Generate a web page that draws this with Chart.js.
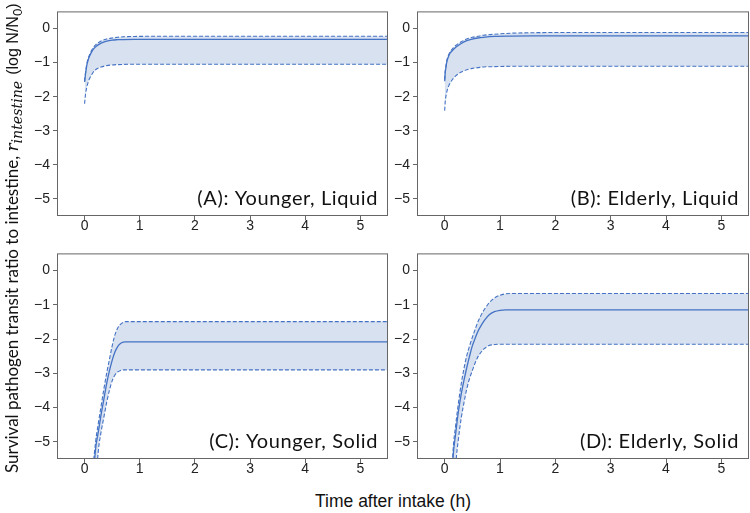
<!DOCTYPE html>
<html>
<head>
<meta charset="utf-8">
<script src="https://cdn.jsdelivr.net/npm/chart.js@4/dist/chart.umd.min.js"></script>
<style>
  body { margin: 0; background: #fff; width: 750px; height: 513px; position: relative; overflow: hidden; }
  .panel { position: absolute; }
  #yTitle {
    position: absolute; left: 1px; top: 473px; white-space: nowrap;
    transform-origin: 0 0; transform: rotate(-90deg);
    font-family: Lato, sans-serif; font-size: 17px; line-height: 22px; color: #111;
  }
  #yTitle .math { font-family: "DejaVu Serif", serif; font-style: italic; }
  #yTitle .unit { font-family: "Liberation Sans", Arial, sans-serif; font-size: 16px; margin-left: 6px; }
  #xTitle {
    position: absolute; left: 393px; top: 493px; transform: translateX(-50%);
    font-family: "Liberation Sans", Arial, sans-serif; font-size: 17.5px; line-height: 1; color: #111; white-space: nowrap;
  }
</style>
</head>
<body>
<div class="panel" style="left:17px;top:0;width:372px;height:244px"><canvas id="chartA"></canvas></div>
<div class="panel" style="left:377px;top:0;width:373px;height:244px"><canvas id="chartB"></canvas></div>
<div class="panel" style="left:17px;top:242px;width:372px;height:245px"><canvas id="chartC"></canvas></div>
<div class="panel" style="left:377px;top:242px;width:373px;height:245px"><canvas id="chartD"></canvas></div>
<div id="yTitle">Survival pathogen transit ratio to intestine, <span class="math">r<sub>intestine</sub></span><span class="unit">(log N/N<sub>0</sub>)</span></div>
<div id="xTitle">Time after intake (h)</div>
<script>
// tick labels
const xTicks = [0, 1, 2, 3, 4, 5];
const yTicks = [0, -1, -2, -3, -4, -5];

// liquid meals: time grid (h) and log ratios
const tLiquid = [0, 0.01, 0.02, 0.04, 0.07, 0.1, 0.15, 0.2, 0.3, 0.4, 0.5, 0.6, 0.7, 0.9, 1.2, 1.6, 2, 5.5];
const meanA  = [-1.57, -1.43, -1.3, -1.08, -0.9, -0.78, -0.63, -0.54, -0.43, -0.37, -0.34, -0.33, -0.325, -0.32, -0.32, -0.32, -0.32, -0.32];
const upperA = [-1.55, -1.4, -1.26, -1.04, -0.85, -0.73, -0.58, -0.48, -0.37, -0.31, -0.28, -0.26, -0.245, -0.235, -0.23, -0.23, -0.23, -0.23];
const lowerA = [-2.21, -2.03, -1.9, -1.72, -1.55, -1.44, -1.3, -1.21, -1.13, -1.09, -1.07, -1.06, -1.055, -1.05, -1.05, -1.05, -1.05, -1.05];
const meanB  = [-1.55, -1.3, -1.18, -0.97, -0.82, -0.72, -0.63, -0.55, -0.44, -0.36, -0.31, -0.28, -0.26, -0.235, -0.225, -0.22, -0.22, -0.22];
const upperB = [-1.5, -1.25, -1.13, -0.93, -0.78, -0.68, -0.58, -0.5, -0.39, -0.31, -0.26, -0.23, -0.2, -0.17, -0.14, -0.125, -0.12, -0.12];
const lowerB = [-2.41, -2.15, -2.02, -1.85, -1.7, -1.6, -1.48, -1.39, -1.28, -1.21, -1.17, -1.15, -1.13, -1.12, -1.11, -1.11, -1.11, -1.11];

// solid meals
const tSolid = [0.1, 0.15, 0.2, 0.25, 0.3, 0.35, 0.4, 0.45, 0.5, 0.55, 0.6, 0.65, 0.7, 0.75, 0.8, 0.9, 1.0, 1.1, 1.2, 1.5, 5.5];
const meanC  = [-8, -6.3, -5.2, -4.7, -4.2, -3.75, -3.3, -2.93, -2.62, -2.38, -2.22, -2.13, -2.09, -2.08, -2.08, -2.08, -2.08, -2.08, -2.08, -2.08, -2.08];
const upperC = [-7.8, -5.9, -5.0, -4.45, -3.95, -3.45, -3.0, -2.6, -2.2, -1.88, -1.68, -1.57, -1.51, -1.49, -1.49, -1.49, -1.49, -1.49, -1.49, -1.49, -1.49];
const lowerC = [-9, -7.8, -6.3, -5.25, -4.7, -4.28, -3.85, -3.5, -3.22, -3.05, -2.96, -2.92, -2.9, -2.9, -2.9, -2.9, -2.9, -2.9, -2.9, -2.9, -2.9];
const meanD  = [-7.5, -5.5, -4.75, -4.1, -3.6, -3.2, -2.83, -2.5, -2.2, -1.98, -1.78, -1.63, -1.5, -1.39, -1.3, -1.2, -1.16, -1.15, -1.15, -1.15, -1.15];
const upperD = [-7.2, -5.3, -4.5, -3.85, -3.3, -2.85, -2.48, -2.2, -1.95, -1.72, -1.5, -1.33, -1.18, -1.06, -0.95, -0.8, -0.72, -0.68, -0.67, -0.67, -0.67];
const lowerD = [-9, -7.5, -5.7, -4.9, -4.3, -3.85, -3.45, -3.15, -2.92, -2.7, -2.52, -2.4, -2.3, -2.24, -2.19, -2.16, -2.15, -2.15, -2.15, -2.15, -2.15];

const lineBlue = '#4472c4';
const bandFill = '#d7e1f0';
const axisGray = '#666';

const toPoints = (t, v) => t.map((x, i) => ({ x: x, y: v[i] }));
const minusFmt = v => (v < 0 ? '\u2212' + Math.abs(v) : String(v));

// frame round the plot area + panel caption
const framePlugin = {
  id: 'frame',
  afterDraw(chart, args, opts) {
    const { ctx, chartArea: a } = chart;
    ctx.save();
    ctx.strokeStyle = axisGray;
    ctx.lineWidth = 1;
    ctx.strokeRect(a.left + 0.5, a.top + 0.5, a.right - a.left - 1, a.bottom - a.top - 1);
    ctx.fillStyle = '#111';
    ctx.font = '20px Lato';
    ctx.letterSpacing = '0.6px';
    ctx.textAlign = 'right';
    ctx.textBaseline = 'alphabetic';
    ctx.fillText(opts.label, a.right - 10, a.bottom - 11);
    ctx.restore();
  }
};

function makeChart(id, t, mean, upper, lower, label) {
  return new Chart(document.getElementById(id), {
    type: 'line',
    data: {
      datasets: [
        { data: toPoints(t, mean), borderColor: lineBlue, borderWidth: 1.3, fill: false },
        { data: toPoints(t, upper), borderColor: lineBlue, borderWidth: 1.1, borderDash: [4, 2], fill: '+1', backgroundColor: bandFill },
        { data: toPoints(t, lower), borderColor: lineBlue, borderWidth: 1.1, borderDash: [4, 2], fill: false }
      ]
    },
    options: {
      responsive: true,
      maintainAspectRatio: false,
      animation: false,
      layout: { padding: { top: 2, right: 1, left: 0, bottom: 0 } },
      elements: { point: { radius: 0 }, line: { cubicInterpolationMode: 'monotone' } },
      plugins: {
        legend: { display: false },
        tooltip: { enabled: false },
        filler: { drawTime: 'beforeDatasetsDraw' },
        frame: { label: label }
      },
      scales: {
        x: {
          type: 'linear', min: -0.5, max: 5.5,
          afterBuildTicks: s => { s.ticks = xTicks.map(v => ({ value: v })); },
          afterFit: s => { s.height = 28; },
          grid: { display: true, drawOnChartArea: false, tickLength: 4, color: axisGray },
          border: { display: false },
          ticks: { padding: -2, color: '#222', font: { family: 'Liberation Sans', size: 14 }, callback: minusFmt }
        },
        y: {
          min: -5.5, max: 0.5,
          afterBuildTicks: s => { s.ticks = yTicks.map(v => ({ value: v })); },
          afterFit: s => { s.width = 40; },
          grid: { display: true, drawOnChartArea: false, tickLength: 4, color: axisGray },
          border: { display: false },
          ticks: { padding: 3, color: '#222', font: { family: 'Liberation Sans', size: 14 }, callback: minusFmt }
        }
      }
    },
    plugins: [framePlugin]
  });
}

makeChart('chartA', tLiquid, meanA, upperA, lowerA, '(A): Younger, Liquid');
makeChart('chartB', tLiquid, meanB, upperB, lowerB, '(B): Elderly, Liquid');
makeChart('chartC', tSolid, meanC, upperC, lowerC, '(C): Younger, Solid');
makeChart('chartD', tSolid, meanD, upperD, lowerD, '(D): Elderly, Solid');
</script>
</body>
</html>
